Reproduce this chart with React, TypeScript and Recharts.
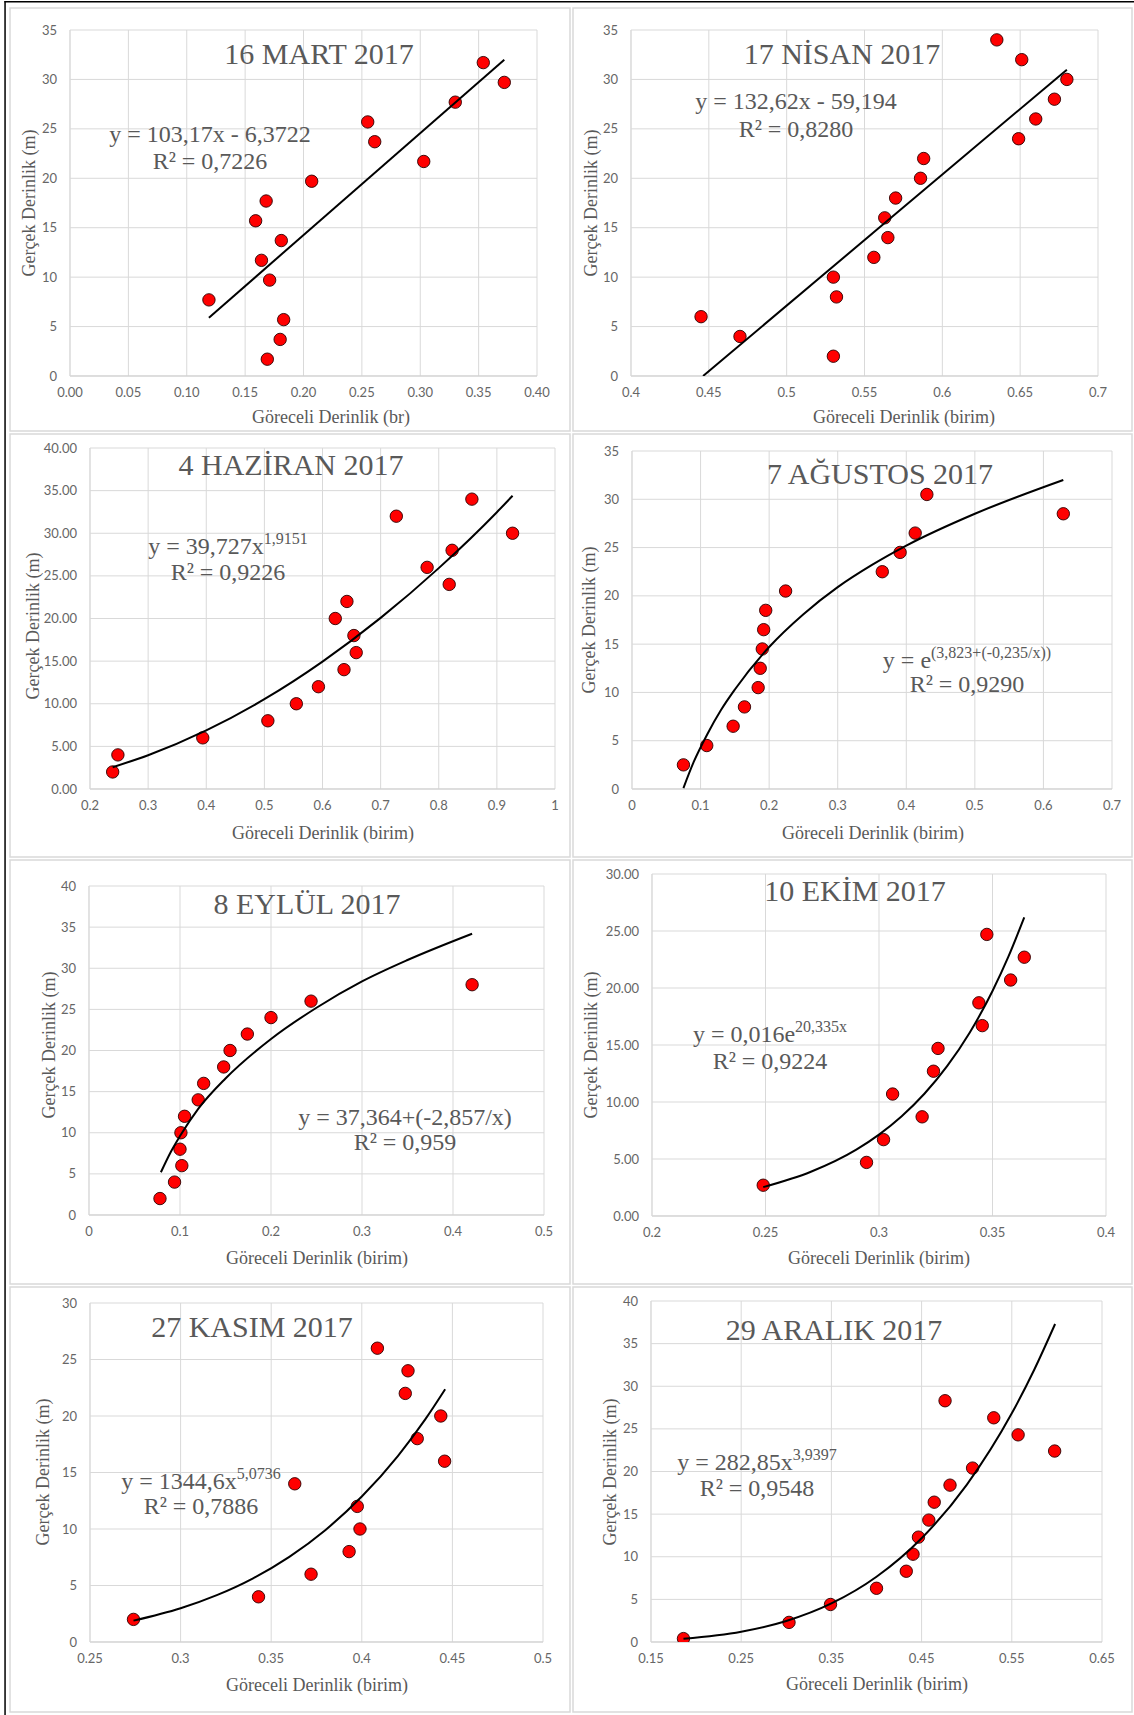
import React from 'react';
import { ScatterChart, Scatter, XAxis, YAxis, CartesianGrid } from 'recharts';

// 16 Mart 2017
const martX = [0.119, 0.159, 0.168, 0.164, 0.171, 0.181, 0.183, 0.18, 0.169, 0.207, 0.255, 0.261, 0.303, 0.33, 0.354, 0.372];
const martY = [7.7, 15.7, 17.7, 11.7, 9.7, 13.7, 5.7, 3.7, 1.7, 19.7, 25.7, 23.7, 21.7, 27.7, 31.7, 29.7];
const martTrendX = [0.119, 0.372];
const martTrendY = [5.9, 32.0];

// 17 Nisan 2017
const nisanX = [0.445, 0.47, 0.53, 0.53, 0.532, 0.556, 0.563, 0.565, 0.57, 0.586, 0.588, 0.635, 0.651, 0.649, 0.66, 0.672, 0.68];
const nisanY = [6, 4, 2, 10, 8, 12, 16, 14, 18, 20, 22, 34, 32, 24, 26, 28, 30];
const nisanTrendX = [0.4463, 0.68];
const nisanTrendY = [0, 30.99];

// 4 Haziran 2017
const haziranX = [0.239, 0.248, 0.394, 0.506, 0.555, 0.593, 0.637, 0.658, 0.654, 0.622, 0.642, 0.818, 0.78, 0.823, 0.927, 0.727, 0.857];
const haziranY = [2, 4, 6, 8, 10, 12, 14, 16, 18, 20, 22, 24, 26, 28, 30, 32, 34];
const haziranTrendX = [0.239, 0.3, 0.4, 0.5, 0.6, 0.7, 0.8, 0.9, 0.927];
const haziranTrendY = [2.56, 3.96, 6.87, 10.53, 14.94, 20.07, 25.91, 32.47, 34.4];

// 7 Ağustos 2017
const agustosX = [0.075, 0.109, 0.1475, 0.164, 0.184, 0.187, 0.19, 0.192, 0.195, 0.224, 0.365, 0.391, 0.413, 0.43, 0.629];
const agustosY = [2.5, 4.5, 6.5, 8.5, 10.5, 12.5, 14.5, 16.5, 18.5, 20.5, 22.5, 24.5, 26.5, 30.5, 28.5];
const agustosTrendX = [0.075, 0.09, 0.11, 0.13, 0.15, 0.2, 0.25, 0.3, 0.35, 0.4, 0.5, 0.629];
const agustosTrendY = [0.1, 2.8, 5.7, 8.2, 10.3, 14.7, 18.1, 20.9, 23.2, 25.2, 28.5, 32.0];

// 8 Eylül 2017
const eylulX = [0.078, 0.094, 0.102, 0.1, 0.101, 0.105, 0.12, 0.126, 0.148, 0.155, 0.174, 0.2, 0.244, 0.421];
const eylulY = [2, 4, 6, 8, 10, 12, 14, 16, 18, 20, 22, 24, 26, 28];
const eylulTrendX = [0.079, 0.09, 0.1, 0.12, 0.15, 0.2, 0.25, 0.3, 0.35, 0.421];
const eylulTrendY = [5.2, 7.7, 9.6, 12.9, 16.6, 21.4, 25.2, 28.4, 31.0, 34.2];

// 10 Ekim 2017
const ekimX = [0.249, 0.2945, 0.302, 0.306, 0.319, 0.324, 0.326, 0.3455, 0.344, 0.358, 0.364, 0.3475];
const ekimY = [2.7, 4.7, 6.7, 10.7, 8.7, 12.7, 14.7, 16.7, 18.7, 20.7, 22.7, 24.7];
const ekimTrendX = [0.249, 0.27, 0.29, 0.3, 0.31, 0.32, 0.33, 0.34, 0.35, 0.357, 0.364];
const ekimTrendY = [2.53, 3.88, 5.82, 7.14, 8.75, 10.72, 13.14, 16.1, 19.74, 22.75, 26.2];

// 27 Kasım 2017
const kasimX = [0.274, 0.343, 0.372, 0.393, 0.399, 0.3975, 0.363, 0.4457, 0.4306, 0.4436, 0.424, 0.4255, 0.4086];
const kasimY = [2, 4, 6, 8, 10, 12, 14, 16, 18, 20, 22, 24, 26];
const kasimTrendX = [0.274, 0.3, 0.32, 0.34, 0.36, 0.38, 0.4, 0.42, 0.435, 0.446];
const kasimTrendY = [1.89, 2.99, 4.15, 5.64, 7.54, 9.92, 12.87, 16.48, 19.7, 22.37];

// 29 Aralık 2017
const aralikX = [0.186, 0.303, 0.349, 0.4, 0.433, 0.4405, 0.4465, 0.458, 0.464, 0.4815, 0.5065, 0.5975, 0.557, 0.53, 0.476];
const aralikY = [0.4, 2.3, 4.4, 6.3, 8.3, 10.3, 12.3, 14.3, 16.4, 18.4, 20.4, 22.4, 24.3, 26.3, 28.3];
const aralikTrendX = [0.186, 0.25, 0.3, 0.35, 0.4, 0.45, 0.5, 0.55, 0.575, 0.598];
const aralikTrendY = [0.37, 1.2, 2.46, 4.52, 7.65, 12.17, 18.44, 26.83, 31.97, 37.3];

// tick labels
const ticks2dp = [0, 0.05, 0.1, 0.15, 0.2, 0.25, 0.3, 0.35, 0.4];
const ticksNisan = [0.4, 0.45, 0.5, 0.55, 0.6, 0.65, 0.7];
const ticksHaziran = [0.2, 0.3, 0.4, 0.5, 0.6, 0.7, 0.8, 0.9, 1];
const ticksAgustos = [0, 0.1, 0.2, 0.3, 0.4, 0.5, 0.6, 0.7];
const ticksEylul = [0, 0.1, 0.2, 0.3, 0.4, 0.5];
const ticksEkim = [0.2, 0.25, 0.3, 0.35, 0.4];
const ticksKasim = [0.25, 0.3, 0.35, 0.4, 0.45, 0.5];
const ticksAralik = [0.15, 0.25, 0.35, 0.45, 0.55, 0.65];
const yTicks30 = [0, 5, 10, 15, 20, 25, 30];
const yTicks35 = [0, 5, 10, 15, 20, 25, 30, 35];
const yTicks40 = [0, 5, 10, 15, 20, 25, 30, 35, 40];

const zip = (xs: number[], ys: number[]) => xs.map((x, i) => ({ x, y: ys[i] }));
const gen = (v: number) => String(v);
const fix2 = (v: number) => v.toFixed(2);

const SERIF = '"Liberation Serif", "Times New Roman", serif';
const TEXT = '#595959';

const panels = [
  {
    title: '16 MART 2017', eq: 'y = 103,17x - 6,3722', sup: '', r2: 'R² = 0,7226', xLabel: 'Göreceli Derinlik (br)',
    pts: zip(martX, martY), trend: zip(martTrendX, martTrendY),
    xTicks: ticks2dp, xFmt: fix2, yTicks: yTicks35, yFmt: gen,
    plot: { l: 70, r: 537, t: 30, b: 376 }, tp: [319, 64], ep: [210, 142, 169], xl: [331, 417], yl: [29, 203],
  },
  {
    title: '17 NİSAN 2017', eq: 'y = 132,62x - 59,194', sup: '', r2: 'R² = 0,8280', xLabel: 'Göreceli Derinlik (birim)',
    pts: zip(nisanX, nisanY), trend: zip(nisanTrendX, nisanTrendY),
    xTicks: ticksNisan, xFmt: gen, yTicks: yTicks35, yFmt: gen,
    plot: { l: 631, r: 1098, t: 30, b: 376 }, tp: [842, 64], ep: [796, 109, 137], xl: [904, 417], yl: [591, 203],
  },
  {
    title: '4 HAZİRAN 2017', eq: 'y = 39,727x', sup: '1,9151', r2: 'R² = 0,9226', xLabel: 'Göreceli Derinlik (birim)',
    pts: zip(haziranX, haziranY), trend: zip(haziranTrendX, haziranTrendY),
    xTicks: ticksHaziran, xFmt: gen, yTicks: yTicks40, yFmt: fix2,
    plot: { l: 90, r: 555, t: 448, b: 789 }, tp: [291, 475], ep: [228, 554, 580], xl: [323, 833], yl: [33, 626],
  },
  {
    title: '7 AĞUSTOS 2017', eq: 'y = e', sup: '(3,823+(-0,235/x))', r2: 'R² = 0,9290', xLabel: 'Göreceli Derinlik (birim)',
    pts: zip(agustosX, agustosY), trend: zip(agustosTrendX, agustosTrendY),
    xTicks: ticksAgustos, xFmt: gen, yTicks: yTicks35, yFmt: gen,
    plot: { l: 632, r: 1112, t: 451, b: 789 }, tp: [880, 484], ep: [967, 668, 692], xl: [873, 833], yl: [589, 620],
  },
  {
    title: '8 EYLÜL 2017', eq: 'y = 37,364+(-2,857/x)', sup: '', r2: 'R² = 0,959', xLabel: 'Göreceli Derinlik (birim)',
    pts: zip(eylulX, eylulY), trend: zip(eylulTrendX, eylulTrendY),
    xTicks: ticksEylul, xFmt: gen, yTicks: yTicks40, yFmt: gen,
    plot: { l: 89, r: 544, t: 886, b: 1215 }, tp: [307, 914], ep: [405, 1125, 1150], xl: [317, 1258], yl: [49, 1045],
  },
  {
    title: '10 EKİM 2017', eq: 'y = 0,016e', sup: '20,335x', r2: 'R² = 0,9224', xLabel: 'Göreceli Derinlik (birim)',
    pts: zip(ekimX, ekimY), trend: zip(ekimTrendX, ekimTrendY),
    xTicks: ticksEkim, xFmt: gen, yTicks: yTicks30, yFmt: fix2,
    plot: { l: 652, r: 1106, t: 874, b: 1216 }, tp: [855, 901], ep: [770, 1042, 1069], xl: [879, 1258], yl: [591, 1045],
  },
  {
    title: '27 KASIM 2017', eq: 'y = 1344,6x', sup: '5,0736', r2: 'R² = 0,7886', xLabel: 'Göreceli Derinlik (birim)',
    pts: zip(kasimX, kasimY), trend: zip(kasimTrendX, kasimTrendY),
    xTicks: ticksKasim, xFmt: gen, yTicks: yTicks30, yFmt: gen,
    plot: { l: 90, r: 543, t: 1303, b: 1642 }, tp: [252, 1337], ep: [201, 1489, 1514], xl: [317, 1685], yl: [43, 1472],
  },
  {
    title: '29 ARALIK 2017', eq: 'y = 282,85x', sup: '3,9397', r2: 'R² = 0,9548', xLabel: 'Göreceli Derinlik (birim)',
    pts: zip(aralikX, aralikY), trend: zip(aralikTrendX, aralikTrendY),
    xTicks: ticksAralik, xFmt: gen, yTicks: yTicks40, yFmt: gen,
    plot: { l: 651, r: 1102, t: 1301, b: 1642 }, tp: [834, 1340], ep: [757, 1470, 1496], xl: [877, 1684], yl: [610, 1472],
  },
];

// panel frames (light grey boxes)
const cols = [[10, 570], [573, 1132]];
const rows = [[8, 431], [434, 857], [860, 1284], [1287, 1712]];

const RedDot = (props: any) => (
  <circle cx={props.cx} cy={props.cy} r={6.2} fill="#ff0000" stroke="#2b0000" strokeWidth={0.9} />
);
const NoDot = () => <g />;

const tickStyle = { fill: '#666', fontSize: 13, fontFamily: 'Lato, "Open Sans", sans-serif' };

const Panel = ({ p }: { p: any }) => {
  const padL = 60, padT = 10, padR = 26, padB = 30;
  const w = p.plot.r - p.plot.l;
  const h = p.plot.b - p.plot.t;
  const xt = p.xTicks;
  const yt = p.yTicks;
  return (
    <div style={{ position: 'absolute', left: p.plot.l - padL, top: p.plot.t - padT }}>
      <ScatterChart width={w + padL + padR} height={h + padT + padB} margin={{ top: padT, right: padR, bottom: 0, left: 0 }}>
        <CartesianGrid stroke="#d9d9d9" strokeWidth={1} />
        <XAxis
          type="number" dataKey="x" domain={[xt[0], xt[xt.length - 1]]} ticks={xt} interval={0}
          tickFormatter={p.xFmt} height={padB} tickSize={0} tickMargin={12}
          axisLine={{ stroke: '#cfcfcf' }} tickLine={false} tick={tickStyle} allowDataOverflow
        />
        <YAxis
          type="number" dataKey="y" domain={[yt[0], yt[yt.length - 1]]} ticks={yt} interval={0}
          tickFormatter={p.yFmt} width={padL} tickSize={0} tickMargin={13}
          axisLine={{ stroke: '#d9d9d9' }} tickLine={false} tick={tickStyle} allowDataOverflow
        />
        <Scatter data={p.pts} shape={RedDot} isAnimationActive={false} />
        <Scatter
          data={p.trend} shape={NoDot} line={{ stroke: '#000', strokeWidth: 2 }}
          lineJointType="monotoneX" isAnimationActive={false}
        />
      </ScatterChart>
    </div>
  );
};

export default function App() {
  return (
    <div style={{ position: 'absolute', left: 0, top: 0, width: 1134, height: 1715, background: '#fff', overflow: 'hidden' }}>
      {panels.map((p, i) => <Panel key={i} p={p} />)}
      <svg width={1134} height={1715} style={{ position: 'absolute', left: 0, top: 0, pointerEvents: 'none' }}>
        <rect x={4.5} y={1} width={1140} height={1.5} fill="#000" />
        <rect x={4.3} y={1} width={1.5} height={1720} fill="#000" />
        {rows.map((r, ri) =>
          cols.map((c, ci) => (
            <rect key={`${ri}-${ci}`} x={c[0]} y={r[0]} width={c[1] - c[0]} height={r[1] - r[0]}
              fill="none" stroke="#d9d9d9" strokeWidth={1.5} />
          ))
        )}
        {panels.map((p, i) => (
          <g key={i} fill={TEXT} fontFamily={SERIF}>
            <text x={p.tp[0]} y={p.tp[1]} fontSize={30} textAnchor="middle">{p.title}</text>
            <text x={p.ep[0]} y={p.ep[1]} fontSize={24} textAnchor="middle">
              {p.eq}
              {p.sup ? <tspan fontSize={16} dy={-10}>{p.sup}</tspan> : null}
            </text>
            <text x={p.ep[0]} y={p.ep[2]} fontSize={24} textAnchor="middle">{p.r2}</text>
            <text x={p.xl[0]} y={p.xl[1]} fontSize={18} textAnchor="middle" dominantBaseline="central">{p.xLabel}</text>
            <text x={p.yl[0]} y={p.yl[1]} fontSize={18} textAnchor="middle" dominantBaseline="central"
              transform={`rotate(-90 ${p.yl[0]} ${p.yl[1]})`}>Gerçek Derinlik (m)</text>
          </g>
        ))}
      </svg>
    </div>
  );
}
